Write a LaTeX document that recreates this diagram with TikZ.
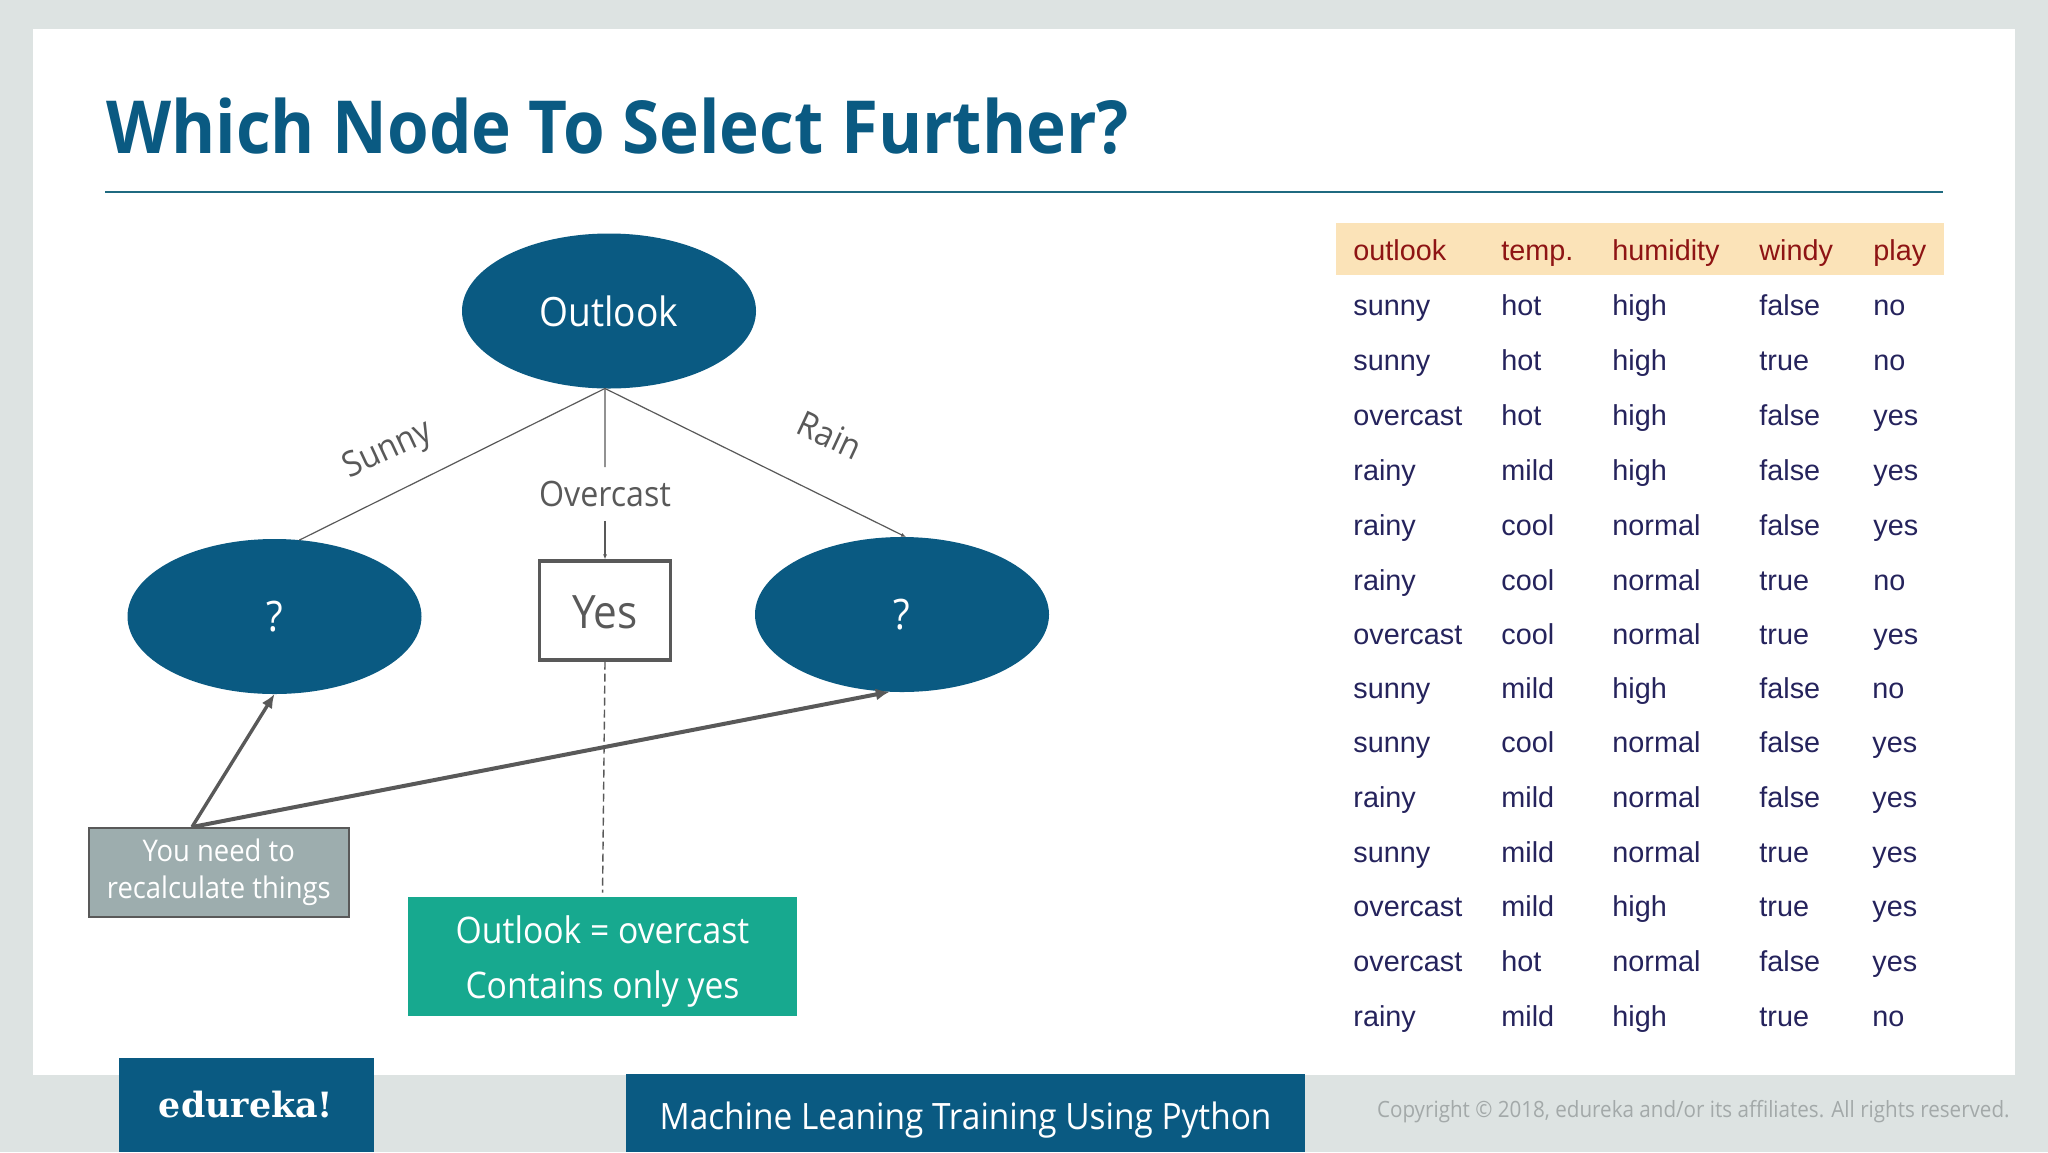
\documentclass[tikz,border=0pt]{standalone}
\usepackage{fontspec}
\setmainfont[FakeStretch=0.92]{Open Sans}
\newfontfamily\tablefont{Liberation Sans}
\newfontfamily\logofont{DejaVu Serif}
\usetikzlibrary{shapes.geometric,arrows.meta}
\definecolor{slatebg}{HTML}{DDE3E2}
\definecolor{deepblue}{HTML}{0A5A82}
\definecolor{inkgrey}{HTML}{595959}
\definecolor{rulecol}{HTML}{1F6A80}
\definecolor{teal}{HTML}{17A98F}
\definecolor{greybox}{HTML}{9DADAE}
\definecolor{bandcol}{HTML}{FBE3B8}
\definecolor{headred}{HTML}{8E1414}
\definecolor{bodynavy}{HTML}{25235C}
\definecolor{copygrey}{HTML}{A3A9A9}
\newcommand{\fs}[1]{\fontsize{#1}{#1}\selectfont}
\tikzset{
  x=0.5pt,y=-0.5pt,
  treenode/.style={ellipse,fill=deepblue,text=white,minimum width=147pt,minimum height=77.5pt,inner sep=0pt,outer sep=0pt,font=\fs{21}},
  edgelabel/.style={text=inkgrey,inner sep=0pt,font=\fs{17.5}},
  thinedge/.style={draw=inkgrey,line width=0.6pt},
  thickarrow/.style={draw=inkgrey,line width=2pt,-{Latex[length=7pt,width=6pt]}},
  tinytip/.style={-{Latex[length=2.5pt,width=2pt]}},
  cellhead/.style={anchor=base west,inner sep=0pt,text=headred,font=\tablefont\fs{14.4}},
  cellbody/.style={anchor=base west,inner sep=0pt,text=bodynavy,font=\tablefont\fs{14.4}},
}
\newcommand{\trow}[7]{%
  \node[#2] (a#1) at (1353,#3) {#4};
  \node[#2] (b#1) at (1501,#3) {#5};
  \node[#2] (c#1) at (1612,#3) {#6};
  \node[#2] (d#1) at (1759,#3) {#7};
}
\begin{document}
\begin{tikzpicture}
\useasboundingbox (0,0) rectangle (2048,1152);
\fill[slatebg] (0,0) rectangle (2048,1152);
\fill[white] (33,29) rectangle (2015,1075);
% title
\node[anchor=base west,inner sep=0pt,text=deepblue,font=\bfseries\fs{36.6}] (title) at (106,153) {Which Node To Select Further?};
\draw[rulecol,line width=1pt] (105,192) -- (1943,192);
% table
\fill[bandcol] (1335.5,223) rectangle (1944,275);
\trow{0}{cellhead}{260}{outlook}{temp.}{humidity}{windy}\node[cellhead] (e0) at (1873,260) {play};
\trow{1}{cellbody}{315}{sunny}{hot}{high}{false}\node[cellbody] (e1) at (1873,315) {no};
\trow{2}{cellbody}{370}{sunny}{hot}{high}{true}\node[cellbody] (e2) at (1873,370) {no};
\trow{3}{cellbody}{425.8}{overcast}{hot}{high}{false}\node[cellbody] (e3) at (1873,425.8) {yes};
\trow{4}{cellbody}{480.8}{rainy}{mild}{high}{false}\node[cellbody] (e4) at (1873,480.8) {yes};
\trow{5}{cellbody}{535}{rainy}{cool}{normal}{false}\node[cellbody] (e5) at (1873,535) {yes};
\trow{6}{cellbody}{590}{rainy}{cool}{normal}{true}\node[cellbody] (e6) at (1873,590) {no};
\trow{7}{cellbody}{644.5}{overcast}{cool}{normal}{true}\node[cellbody] (e7) at (1873,644.5) {yes};
\trow{8}{cellbody}{698}{sunny}{mild}{high}{false}\node[cellbody] (e8) at (1872,698) {no};
\trow{9}{cellbody}{752.7}{sunny}{cool}{normal}{false}\node[cellbody] (e9) at (1872,752.7) {yes};
\trow{10}{cellbody}{807.7}{rainy}{mild}{normal}{false}\node[cellbody] (e10) at (1872,807.7) {yes};
\trow{11}{cellbody}{862.2}{sunny}{mild}{normal}{true}\node[cellbody] (e11) at (1872,862.2) {yes};
\trow{12}{cellbody}{916.5}{overcast}{mild}{high}{true}\node[cellbody] (e12) at (1872,916.5) {yes};
\trow{13}{cellbody}{971.7}{overcast}{hot}{normal}{false}\node[cellbody] (e13) at (1872,971.7) {yes};
\trow{14}{cellbody}{1026.7}{rainy}{mild}{high}{true}\node[cellbody] (e14) at (1872,1026.7) {no};
% tree
\node[treenode,font=\fs{20.2}] (outlook) at (609,311) {Outlook};
\node[treenode] (qleft) at (274.5,616.5) {?};
\node[treenode] (qright) at (902,614.5) {?};
\node[draw=inkgrey,line width=1.6pt,fill=white,minimum width=65.5pt,minimum height=49.5pt,inner sep=0pt] (yes) at (605,610.5) {};
\node[inner sep=0pt,text=inkgrey,font=\fs{23}] (yestext) at (605,612) {Yes};
\node[edgelabel,minimum height=26.5pt] (overcast) at (605,494) {Overcast};
\node[edgelabel,rotate=25] (sunny) at (388,451) {Sunny};
\node[edgelabel,rotate=-25] (rain) at (830,435) {Rain};
\draw[thinedge] (outlook.267) -- (qleft.72);
\draw[thinedge,tinytip] (outlook.267) -- (qright.87);
\draw[thinedge] (outlook.267) -- (overcast.north);
\draw[thinedge,tinytip] (overcast.south) -- (yes.north);
% callouts
\node[draw=inkgrey,line width=1pt,fill=greybox,minimum width=130pt,minimum height=44.5pt,inner sep=0pt,text=white,align=center,font=\fs{14.9}] (recalc) at (218.8,872.2) {\fs{14.9}You need to\\[4pt]recalculate things};
\node[fill=teal,minimum width=194.5pt,minimum height=59.5pt,inner sep=0pt] (answer) at (602.5,956.5) {};
\node[inner sep=0pt,text=white,align=center,font=\fs{18.3}] (answertext) at (602.5,961.5) {\fs{18.3}Outlook = overcast\\[9.5pt]Contains only yes};
\coordinate (src) at (192,827);
\draw[thickarrow,line width=1.7pt] (src) -- (qleft.south);
\draw[thickarrow] (src) -- (qright.261);
\draw[inkgrey,line width=0.7pt,dash pattern=on 4pt off 2pt,shorten >=2pt] (yes.south) -- (answer.north);
% footer
\node[fill=deepblue,minimum width=127.5pt,minimum height=47pt,inner sep=0pt,outer sep=0pt] (logobox) at (246.5,1105) {};
\node[text=white,inner sep=0pt,font=\logofont\bfseries\fs{17.4}] (logo) at (246,1105) {edureka!};
\node[fill=deepblue,minimum width=339.5pt,minimum height=39pt,inner sep=0pt,outer sep=0pt] (coursebox) at (965.5,1113) {};
\node[text=white,inner sep=0pt,font=\fs{18.15}] (course) at (965.5,1120) {Machine Leaning Training Using Python};
\node[anchor=east,text=copygrey,inner sep=0pt,font=\fs{11.2}] (copy) at (2010,1112) {Copyright © 2018, edureka and/or its affiliates. All rights reserved.};
\end{tikzpicture}
\end{document}
